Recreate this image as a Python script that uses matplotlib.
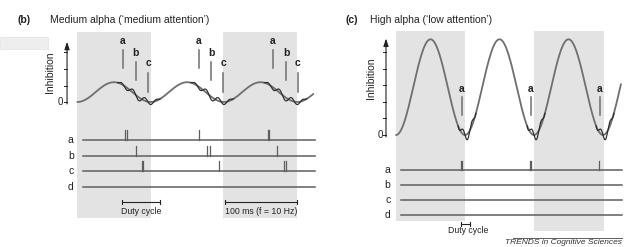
import numpy as np
import matplotlib
matplotlib.use("Agg")
import matplotlib.pyplot as plt
from matplotlib.patches import Rectangle

plt.rcParams['font.family'] = ['Liberation Sans', 'DejaVu Sans']

W, H = 626, 247

# ---------------- data (times in ms, inhibition in arbitrary units) ----------
ALPHA_PERIOD_MS = 100            # f = 10 Hz
ALPHA_PEAK_B = 1.2               # medium alpha peak inhibition
ALPHA_PEAK_C = 5.8               # high alpha peak inhibition
GAMMA_PERIOD_B = 16.5
GAMMA_AMP_B = 0.2
GAMMA_WINDOWS_B = [(55, 113), (155, 213), (255, 313)]
GAMMA_PERIOD_C = 14.0
GAMMA_AMP_C = 0.35
GAMMA_WINDOWS_C = [(90, 116), (190, 216), (290, 316)]
WAVE_SPAN_B = (0, 322)
WAVE_SPAN_C = (0, 326)

shade_b = [(0, 100), (199, 300)]
shade_c = [(0, 100), (200, 301)]

# marker lines above the wave (panel b): time, y bottom, y top
marker_names_b = ['a', 'b', 'c']
marker_times_b = {'a': [62.5, 166, 267], 'b': [80, 182.4, 284.7], 'c': [96.5, 198.8, 301]}
marker_ytop_b = {'a': 3.15, 'b': 2.42, 'c': 1.76}
marker_ybot_b = {'a': 2.06, 'b': 1.33, 'c': 0.6}
marker_times_c = [95.7, 195.7, 295.7]

# spike rasters
rows = ['a', 'b', 'c', 'd']
spikes_b = {
    'a': [65.4, 67.4, 166.4, 259.6, 261.6],
    'b': [79.7, 176.5, 181.0, 272.9],
    'c': [88.2, 90.2, 192.9, 282.4, 284.4],
    'd': [],
}
spikes_c = {
    'a': [94.2, 96.2, 194.2, 196.2, 293.8],
    'b': [],
    'c': [],
    'd': [],
}
row_y_b = [-2.28, -3.25, -4.18, -5.13]
row_y_c = [-2.12, -3.03, -3.94, -4.85]
raster_span_b = (7.4, 324)
raster_span_c = (6.8, 327)

yticks_b = [0, 1, 2, 3]
yticks_c = [0, 1, 2, 3, 4, 5]

duty_b = (61, 112.8)
scale_bar_b = (202, 300)
duty_c = (94, 107.5)

SHADE = '#e3e3e3'
WAVE = '#6f6f6f'
GAMMA = '#2a2a2a'
LINE = '#5e5e5e'
TXT = '#222222'

fig = plt.figure(figsize=(W / 100, H / 100), dpi=100)


def make_axes(px_left, px_right, px_t0, px_per_ms, px_y0, px_per_unit):
    ax = fig.add_axes([px_left / W, 0, (px_right - px_left) / W, 1])
    ax.set_xlim((px_left - px_t0) / px_per_ms, (px_right - px_t0) / px_per_ms)
    ax.set_ylim((px_y0 - H) / px_per_unit, px_y0 / px_per_unit)
    ax.axis('off')
    return ax


def draw_panel(ax, shades, shade_bottoms, shade_top, peak, span, gwins, gper, gamp, gphase,
               spikes, row_y, rspan, spike_h, yticks, axis_x, axis_top, inh_xy, label_x):
    for (s0, s1), sb in zip(shades, shade_bottoms):
        ax.add_patch(Rectangle((s0, sb), s1 - s0, shade_top - sb, color=SHADE, lw=0, zorder=0))
    t = np.linspace(span[0], span[1], 1200)
    wave = peak * (1 - np.cos(2 * np.pi * t / ALPHA_PERIOD_MS)) / 2
    ax.plot(t, wave, color=WAVE, lw=1.3, zorder=3, solid_capstyle='round')
    for g0, g1 in gwins:
        tg = np.linspace(g0, g1, 300)
        base = peak * (1 - np.cos(2 * np.pi * tg / ALPHA_PERIOD_MS)) / 2
        win = np.sin(np.pi * (tg - g0) / (g1 - g0)) ** 0.6
        ax.plot(tg, base + gamp * win * np.sin(2 * np.pi * (tg - g0 - gphase) / gper),
                color=GAMMA, lw=0.85, zorder=4)
    # y axis with arrow
    ax.annotate('', xy=(axis_x, axis_top), xytext=(axis_x, -0.12),
                arrowprops=dict(arrowstyle='-|>,head_length=0.45,head_width=0.15',
                                lw=0.8, color=TXT, shrinkA=0, shrinkB=0))
    for yt in yticks:
        ax.plot([axis_x - 4, axis_x], [yt, yt], color=TXT, lw=0.7)
    ax.text(axis_x - 5, 0, '0', ha='right', va='center', fontsize=7, color=TXT)
    ax.text(inh_xy[0], inh_xy[1], 'Inhibition', rotation=90, ha='center', va='center',
            fontsize=7.5, color=TXT)
    # raster
    for name, yr in zip(rows, row_y):
        ax.plot(rspan, [yr, yr], color=LINE, lw=1.1, zorder=2)
        ax.text(label_x, yr, name, ha='right', va='center', fontsize=7.5, color=TXT)
        for sp in spikes[name]:
            ax.plot([sp, sp], [yr, yr + spike_h], color=LINE, lw=0.9, zorder=2)


# ---------------- panel (b) ----------------
ax_b = make_axes(0, 320, 77.3, 0.733, 102, 16.5)
draw_panel(ax_b, shade_b, [-7.03, -7.03], 4.24, ALPHA_PEAK_B, WAVE_SPAN_B, GAMMA_WINDOWS_B,
           GAMMA_PERIOD_B, GAMMA_AMP_B, 0.0, spikes_b, row_y_b, raster_span_b, 0.6,
           yticks_b, -14, 3.65, (-37, 1.82), -5)
label_y_b = {'a': 3.7, 'b': 2.96, 'c': 2.36}
for name in marker_names_b:
    for tm in marker_times_b[name]:
        ax_b.plot([tm, tm], [marker_ybot_b[name], marker_ytop_b[name]], color=WAVE, lw=1.1)
        ax_b.text(tm, label_y_b[name], name, ha='center', va='center', fontsize=7.5,
                  color=TXT, fontweight='bold')
for (x0, x1), label in [(duty_b, 'Duty cycle'), (scale_bar_b, '100 ms (f = 10 Hz)')]:
    ax_b.plot([x0, x1], [-6.06, -6.06], color=TXT, lw=0.8)
    for xe in (x0, x1):
        ax_b.plot([xe, xe], [-5.94, -6.18], color=TXT, lw=0.8)
    ax_b.text((x0 + x1) / 2, -6.65, label, ha='center', va='center', fontsize=6.3, color=TXT)

# ---------------- panel (c) ----------------
ax_c = make_axes(320, 626, 396, 0.69, 135, 16.5)
draw_panel(ax_c, shade_c, [-5.21, -5.82], 6.3, ALPHA_PEAK_C, WAVE_SPAN_C, GAMMA_WINDOWS_C,
           GAMMA_PERIOD_C, GAMMA_AMP_C, 3.0, spikes_c, row_y_c, raster_span_c, 0.55,
           yticks_c, -14.5, 5.85, (-36, 3.45), -8)
for tm in marker_times_c:
    ax_c.plot([tm, tm], [1.21, 2.3], color=WAVE, lw=1.1)
    ax_c.text(tm, 2.79, 'a', ha='center', va='center', fontsize=7.5, color=TXT,
              fontweight='bold')
ax_c.plot(duty_c, [-5.39, -5.39], color=TXT, lw=0.8)
for xe in duty_c:
    ax_c.plot([xe, xe], [-5.27, -5.51], color=TXT, lw=0.8)
ax_c.text(sum(duty_c) / 2 + 4, -5.76, 'Duty cycle', ha='center', va='center', fontsize=6.3,
          color=TXT)

# ---------------- titles and decorations ----------------
fig.text(17 / W, 1 - 20 / H, '(b)', fontsize=7.5, fontweight='bold', va='center', color=TXT)
fig.text(50 / W, 1 - 20 / H, 'Medium alpha (\u2018medium attention\u2019)', fontsize=7.5,
         va='center', color=TXT)
fig.text(345 / W, 1 - 20 / H, '(c)', fontsize=7.5, fontweight='bold', va='center', color=TXT)
fig.text(370 / W, 1 - 20 / H, 'High alpha (\u2018low attention\u2019)', fontsize=7.5,
         va='center', color=TXT)
fig.patches.append(Rectangle((0, 1 - 49 / H), 48 / W, 12 / H, transform=fig.transFigure,
                             facecolor='#eeeeee', edgecolor='#e2e2e2', lw=0.5))
fig.lines.append(plt.Line2D([513 / W, 622 / W], [1 - 238 / H, 1 - 238 / H],
                            transform=fig.transFigure, color='#444444', lw=0.6))
fig.text(622 / W, 1.5 / H, 'TRENDS in Cognitive Sciences', fontsize=6, style='italic',
         ha='right', va='bottom', color='#333333')

fig.savefig('out.png', dpi=100)
